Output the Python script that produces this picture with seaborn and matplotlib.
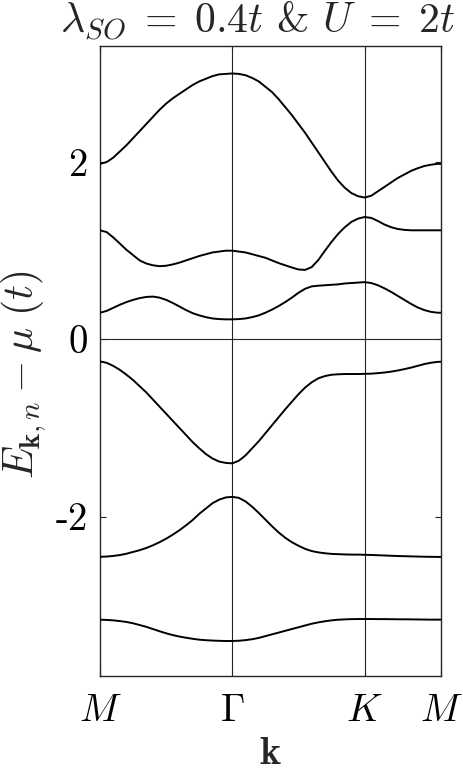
#!/usr/bin/env python3
"""
Band structure along M-Gamma-K-M for lambda_SO = 0.4t, U = 2t
"""

import matplotlib
matplotlib.use("Agg")
import matplotlib.pyplot as plt
import numpy as np
import pandas as pd
import seaborn as sns

# k along the path (M -> Gamma -> K -> M), Gamma at 1, K at 2
k_path = [0.0, 0.05, 0.1, 0.15, 0.2, 0.25, 0.3, 0.35, 0.4, 0.45, 0.5,
          0.55, 0.6, 0.65, 0.7, 0.75, 0.8, 0.85, 0.9, 0.95, 1.0,
          1.05, 1.1, 1.15, 1.2, 1.25, 1.3, 1.35, 1.4, 1.45, 1.5,
          1.55, 1.6, 1.65, 1.7, 1.75, 1.8, 1.85, 1.9, 1.95, 2.0,
          2.05, 2.1, 2.15, 2.2, 2.25, 2.3, 2.35, 2.4, 2.45, 2.5, 2.55, 2.577]

k_ticks = [0.0, 1.0, 2.0, 2.577]
k_tick_labels = [r'$M$', r'$\Gamma$', r'$K$', r'$M$']
e_ticks = [-2, 0, 2]
e_tick_labels = [r'-$2$', r'$0$', r'$2$']

band1 = [-3.165, -3.167, -3.172, -3.18, -3.19, -3.205, -3.225, -3.245, -3.27, -3.295, -3.318,
         -3.338, -3.355, -3.368, -3.38, -3.39, -3.396, -3.40, -3.403, -3.405, -3.405,
         -3.402, -3.395, -3.385, -3.37, -3.35, -3.33, -3.31, -3.29, -3.27, -3.25,
         -3.23, -3.21, -3.195, -3.182, -3.172, -3.165, -3.161, -3.158, -3.157, -3.157,
         -3.157, -3.158, -3.158, -3.159, -3.16, -3.16, -3.161, -3.162, -3.163, -3.164, -3.164, -3.164]

band2 = [-2.455, -2.452, -2.445, -2.435, -2.42, -2.40, -2.38, -2.355, -2.325, -2.29, -2.25,
         -2.205, -2.155, -2.10, -2.04, -1.97, -1.91, -1.85, -1.81, -1.785, -1.778,
         -1.79, -1.83, -1.89, -1.96, -2.035, -2.11, -2.18, -2.24, -2.29, -2.33,
         -2.365, -2.39, -2.405, -2.415, -2.422, -2.425, -2.428, -2.43, -2.43, -2.432,
         -2.434, -2.437, -2.44, -2.443, -2.446, -2.448, -2.45, -2.452, -2.454, -2.455, -2.456, -2.456]

band3 = [-0.25, -0.265, -0.30, -0.345, -0.40, -0.46, -0.53, -0.60, -0.68, -0.76, -0.84,
         -0.92, -1.00, -1.08, -1.16, -1.23, -1.295, -1.345, -1.38, -1.395, -1.40,
         -1.37, -1.31, -1.23, -1.15, -1.06, -0.97, -0.88, -0.79, -0.705, -0.62,
         -0.545, -0.485, -0.44, -0.415, -0.40, -0.395, -0.392, -0.392, -0.392, -0.39,
         -0.388, -0.382, -0.375, -0.365, -0.352, -0.337, -0.32, -0.30, -0.28, -0.265, -0.255, -0.253]

band4 = [0.30, 0.32, 0.355, 0.39, 0.42, 0.445, 0.465, 0.478, 0.482, 0.47, 0.445,
         0.41, 0.37, 0.33, 0.295, 0.27, 0.25, 0.235, 0.228, 0.225, 0.225,
         0.228, 0.235, 0.25, 0.27, 0.30, 0.335, 0.375, 0.42, 0.47, 0.525,
         0.57, 0.597, 0.605, 0.61, 0.615, 0.62, 0.63, 0.635, 0.64, 0.645,
         0.635, 0.61, 0.575, 0.535, 0.49, 0.445, 0.40, 0.36, 0.33, 0.31, 0.30, 0.30]

band5 = [1.23, 1.21, 1.15, 1.08, 1.01, 0.95, 0.89, 0.855, 0.835, 0.825, 0.83,
         0.845, 0.865, 0.89, 0.915, 0.94, 0.96, 0.98, 0.99, 1.0, 1.0,
         0.99, 0.98, 0.96, 0.94, 0.92, 0.89, 0.86, 0.835, 0.81, 0.788,
         0.783, 0.815, 0.895, 1.0, 1.10, 1.19, 1.265, 1.325, 1.362, 1.38,
         1.37, 1.335, 1.295, 1.265, 1.245, 1.235, 1.23, 1.23, 1.23, 1.23, 1.23, 1.23]

band6 = [1.98, 2.00, 2.05, 2.12, 2.19, 2.27, 2.35, 2.43, 2.51, 2.59, 2.66,
         2.72, 2.77, 2.82, 2.87, 2.91, 2.94, 2.97, 2.99, 2.995, 3.00,
         2.995, 2.98, 2.95, 2.91, 2.85, 2.79, 2.71, 2.62, 2.53, 2.43,
         2.33, 2.22, 2.11, 2.00, 1.89, 1.79, 1.71, 1.65, 1.615, 1.60,
         1.62, 1.67, 1.72, 1.77, 1.82, 1.86, 1.90, 1.93, 1.955, 1.97, 1.98, 1.98]

bands = [band1, band2, band3, band4, band5, band6]

rows = []
for n, band in enumerate(bands):
    for k, e in zip(k_path, band):
        rows.append({'k': k, 'E': e, 'band': n})
df = pd.DataFrame(rows)

sns.set_theme(style='white')
plt.rcParams['mathtext.fontset'] = 'cm'
plt.rcParams['font.family'] = ['cmr10', 'DejaVu Serif']
plt.rcParams['axes.formatter.use_mathtext'] = True

axis_gray = '#262626'
fs = 28

fig = plt.figure(figsize=(4.63, 7.75), dpi=100)
ax = fig.add_axes([100 / 463, 1 - 676 / 775, 341 / 463, 630 / 775])

# high-symmetry lines and Fermi level
for kt in k_ticks[1:3]:
    ax.axvline(kt, color=axis_gray, lw=0.8, zorder=1)
ax.axhline(0, color=axis_gray, lw=0.8, zorder=1)

sns.lineplot(data=df, x='k', y='E', units='band', estimator=None,
             color='black', lw=1.4, ax=ax, legend=False, zorder=3)

ax.set_xlim(k_ticks[0], k_ticks[-1])
ax.set_ylim(-3.80, 3.31)
ax.set_xticks(k_ticks)
ax.set_xticklabels(k_tick_labels, fontsize=fs)
ax.set_yticks(e_ticks)
ax.set_yticklabels(e_tick_labels, fontsize=fs)

ax.tick_params(axis='both', direction='in', length=4, width=0.8, color=axis_gray,
               labelcolor='black')
ax.tick_params(axis='y', left=True, right=True, pad=9)
ax.tick_params(axis='x', bottom=True, top=True, pad=12)
for sp in ax.spines.values():
    sp.set_color(axis_gray)
    sp.set_linewidth(1.0)

ax.set_xlabel(r'$\mathbf{k}$', fontsize=fs + 1)
ax.xaxis.set_label_coords(0.5, -0.096)
ax.set_ylabel(r'$E_{\mathbf{k},n} - \mu\ (t)$', fontsize=fs + 2)
ax.yaxis.set_label_coords(-0.152, 0.4786)

ax.text(0.4633, 1.004, r'$\lambda_{SO}\;=\;0.4t$ & $U\;=\;2t$', fontsize=fs + 2,
        transform=ax.transAxes, ha='center', va='bottom')

fig.savefig('out.png', dpi=100)
